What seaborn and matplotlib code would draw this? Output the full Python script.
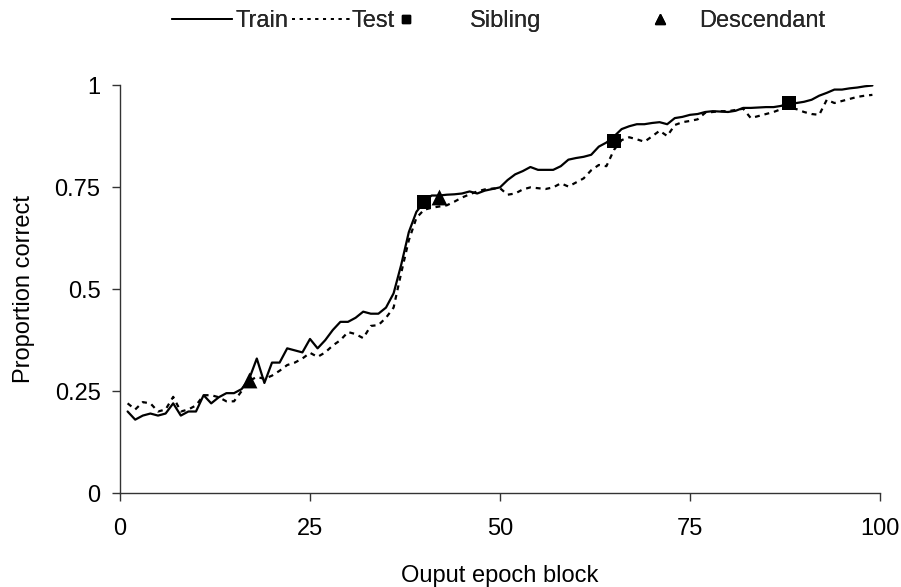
import matplotlib
matplotlib.use("Agg")
import matplotlib.pyplot as plt
from matplotlib.lines import Line2D
import seaborn as sns
import numpy as np
import pandas as pd

# ---- data ----
epochs = list(range(1, 100))
train = [0.20, 0.18, 0.19, 0.195, 0.19, 0.195, 0.22, 0.19, 0.20, 0.20,
         0.24, 0.22, 0.235, 0.245, 0.245, 0.255, 0.28, 0.33, 0.27, 0.32,
         0.32, 0.355, 0.35, 0.345, 0.378, 0.355, 0.375, 0.40, 0.42, 0.42,
         0.43, 0.445, 0.44, 0.44, 0.455, 0.49, 0.56, 0.64, 0.69, 0.714,
         0.73, 0.73, 0.732, 0.733, 0.735, 0.74, 0.735, 0.742, 0.746, 0.75,
         0.768, 0.782, 0.79, 0.80, 0.793, 0.793, 0.793, 0.802, 0.818, 0.822,
         0.825, 0.83, 0.85, 0.86, 0.875, 0.893, 0.90, 0.905, 0.905, 0.908,
         0.91, 0.905, 0.92, 0.923, 0.928, 0.93, 0.935, 0.937, 0.936, 0.935,
         0.938, 0.945, 0.945, 0.946, 0.947, 0.947, 0.95, 0.957, 0.957, 0.96,
         0.965, 0.975, 0.982, 0.99, 0.99, 0.993, 0.995, 0.998, 1.0]
test = [0.22, 0.205, 0.223, 0.22, 0.20, 0.205, 0.236, 0.20, 0.205, 0.215,
        0.24, 0.24, 0.235, 0.225, 0.225, 0.25, 0.275, 0.285, 0.28, 0.288,
        0.30, 0.314, 0.32, 0.33, 0.344, 0.334, 0.345, 0.362, 0.375, 0.395,
        0.39, 0.38, 0.41, 0.412, 0.43, 0.455, 0.54, 0.62, 0.675, 0.695,
        0.70, 0.703, 0.706, 0.715, 0.725, 0.733, 0.74, 0.745, 0.747, 0.748,
        0.732, 0.735, 0.745, 0.75, 0.748, 0.746, 0.75, 0.76, 0.752, 0.762,
        0.772, 0.792, 0.805, 0.802, 0.842, 0.866, 0.873, 0.868, 0.862, 0.875,
        0.889, 0.876, 0.903, 0.91, 0.913, 0.917, 0.933, 0.935, 0.937, 0.937,
        0.94, 0.943, 0.92, 0.925, 0.93, 0.935, 0.942, 0.945, 0.942, 0.935,
        0.93, 0.928, 0.965, 0.957, 0.962, 0.967, 0.972, 0.975, 0.977]
sibling_x = [40, 65, 88]
sibling_y = [0.714, 0.864, 0.957]
descendant_x = [17, 42]
descendant_y = [0.277, 0.727]
x_ticks = [0, 25, 50, 75, 100]
y_ticks = [0, 0.25, 0.5, 0.75, 1]
y_tick_labels = ["0", "0.25", "0.5", "0.75", "1"]

sns.set_theme(style="white")
plt.rcParams['font.family'] = ['Liberation Sans', 'DejaVu Sans']
FS = 17
W, H = 901, 587
fig = plt.figure(figsize=(W / 100, H / 100), dpi=100)
ax = fig.add_axes([120 / W, 1 - 493 / H, 760 / W, (493 - 85.5) / H])

df_train = pd.DataFrame({"epoch": epochs, "value": train})
df_test = pd.DataFrame({"epoch": epochs, "value": test})
sns.lineplot(data=df_train, x="epoch", y="value", ax=ax, color="black", linewidth=1.6)
sns.lineplot(data=df_test, x="epoch", y="value", ax=ax, color="black", linewidth=1.6,
             linestyle=(0, (2.2, 2.2)))
sns.scatterplot(x=sibling_x, y=sibling_y, ax=ax, marker="s", s=110, color="black",
                edgecolor="black", linewidth=0, zorder=5)
sns.scatterplot(x=descendant_x, y=descendant_y, ax=ax, marker="^", s=130, color="black",
                edgecolor="black", linewidth=0, zorder=5)

ax.set_xlim(0, 100)
ax.set_ylim(0, 1)
ax.set_xticks(x_ticks)
ax.set_xticklabels([str(v) for v in x_ticks])
ax.set_yticks(y_ticks)
ax.set_yticklabels(y_tick_labels)
ax.tick_params(axis="both", which="major", labelsize=FS, direction="out",
               length=6, width=1, color="#333333", labelcolor="black",
               bottom=True, left=True)
ax.tick_params(axis="x", pad=12)
ax.tick_params(axis="y", pad=8)
for side in ["top", "right"]:
    ax.spines[side].set_visible(False)
for side in ["left", "bottom"]:
    ax.spines[side].set_color("#333333")
    ax.spines[side].set_linewidth(1)
ax.set_xlabel("Ouput epoch block", fontsize=FS, labelpad=18, color="black")
ax.set_ylabel("Proportion correct", fontsize=FS, labelpad=14, color="black")
ax.grid(False)

em = FS * 100 / 72.0
yc = 1 - 21 / H


def add_leg(handle, label, x0, hl_px, pad_px):
    leg = fig.legend(handles=[handle], labels=[label], loc="center left",
                     bbox_to_anchor=(x0 / W, yc), frameon=False, borderpad=0,
                     borderaxespad=0, handlelength=hl_px / em,
                     handletextpad=pad_px / em, fontsize=FS)
    fig.add_artist(leg)


add_leg(Line2D([], [], color="black", lw=1.4), "Train", 172, 60, 4)
add_leg(Line2D([], [], color="black", lw=1.4, ls=(0, (1.5, 2.5))), "Test", 292, 58, 2)
add_leg(Line2D([], [], color="black", ls="none", marker="s", markersize=6), "Sibling", 394, em, 52)
add_leg(Line2D([], [], color="black", ls="none", marker="^", markersize=7), "Descendant", 648, em, 28)

fig.savefig("out.png", dpi=100)
